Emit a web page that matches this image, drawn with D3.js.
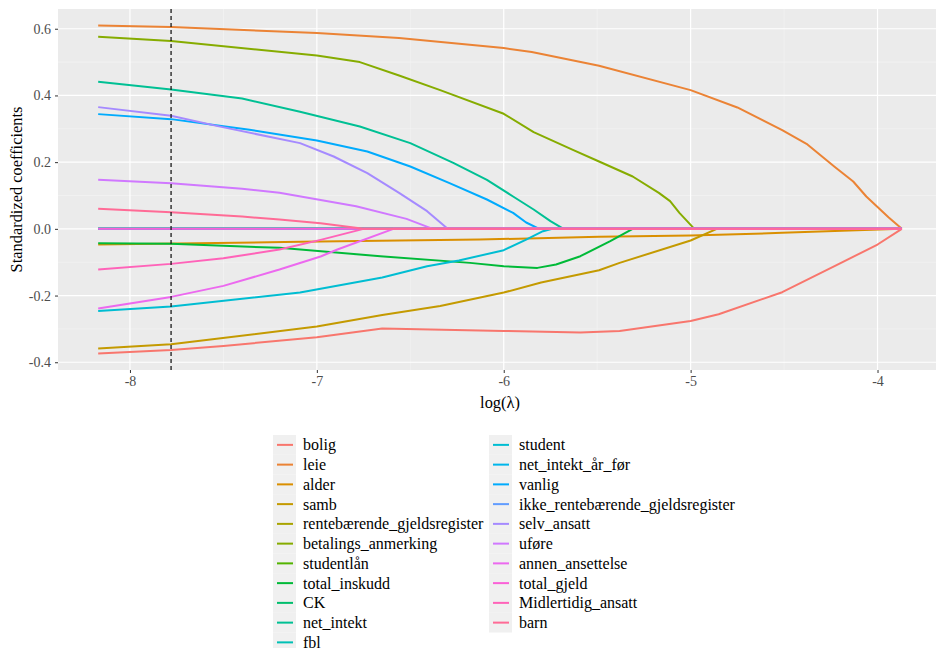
<!DOCTYPE html>
<html>
<head>
<meta charset="utf-8">
<script src="https://cdn.jsdelivr.net/npm/d3@7"></script>
</head>
<body style="margin: 0; background: #ffffff">
<svg id="chart" width="936" height="648" font-family="Liberation Serif" style="display: block; font-family: 'Liberation Serif', serif"></svg>
<script>
// variable names, in legend order
const varNames = [
  "bolig", "leie", "alder", "samb", "rentebærende_gjeldsregister",
  "betalings_anmerking", "studentlån", "total_inskudd", "CK", "net_intekt",
  "fbl", "student", "net_intekt_år_før", "vanlig",
  "ikke_rentebærende_gjeldsregister", "selv_ansatt", "uføre",
  "annen_ansettelse", "total_gjeld", "Midlertidig_ansatt", "barn"
];

// coefficient paths, [log(lambda), coefficient]
const bolig = [[-8.17, -0.374], [-7.78, -0.363], [-7.5, -0.351], [-7.0, -0.325], [-6.65, -0.299], [-6.0, -0.306], [-5.59, -0.311], [-5.38, -0.306], [-5.0, -0.276], [-4.85, -0.256], [-4.51, -0.19], [-4.23, -0.112], [-4.0, -0.047], [-3.87, 0]];
const leie = [[-8.17, 0.61], [-7.78, 0.605], [-7.0, 0.587], [-6.56, 0.572], [-6.0, 0.542], [-5.85, 0.53], [-5.49, 0.489], [-5.0, 0.416], [-4.75, 0.364], [-4.51, 0.296], [-4.38, 0.255], [-4.23, 0.186], [-4.13, 0.142], [-4.06, 0.097], [-3.94, 0.034], [-3.87, 0]];
const alder = [[-8.17, -0.047], [-7.09, -0.039], [-6.13, -0.032], [-5.49, -0.024], [-5.0, -0.02], [-4.51, -0.012], [-3.87, 0]];
const samb = [[-8.17, -0.359], [-7.78, -0.346], [-7.0, -0.293], [-6.65, -0.258], [-6.34, -0.231], [-6.0, -0.191], [-5.8, -0.161], [-5.49, -0.124], [-5.38, -0.102], [-5.0, -0.035], [-4.86, 0], [-3.87, 0]];
const renteGjeld = [[-8.17, 0], [-3.87, 0]];
const betalings = [[-8.17, 0.576], [-7.78, 0.563], [-7.0, 0.52], [-6.77, 0.5], [-6.56, 0.46], [-6.34, 0.416], [-6.0, 0.345], [-5.84, 0.29], [-5.63, 0.237], [-5.49, 0.202], [-5.31, 0.157], [-5.17, 0.108], [-5.11, 0.083], [-5.06, 0.048], [-4.98, 0], [-3.87, 0]];
const studentlan = [[-8.17, 0], [-3.87, 0]];
const totalInskudd = [[-8.17, -0.043], [-7.78, -0.045], [-7.2, -0.057], [-6.66, -0.082], [-6.18, -0.102], [-6.0, -0.112], [-5.82, -0.117], [-5.72, -0.107], [-5.59, -0.082], [-5.43, -0.037], [-5.31, 0], [-3.87, 0]];
const ck = [[-8.17, 0], [-3.87, 0]];
const netIntekt = [[-8.17, 0.441], [-7.78, 0.418], [-7.4, 0.391], [-7.09, 0.351], [-6.77, 0.307], [-6.5, 0.257], [-6.27, 0.198], [-6.09, 0.147], [-5.95, 0.097], [-5.84, 0.058], [-5.75, 0.023], [-5.68, 0], [-3.87, 0]];
const fbl = [[-8.17, 0], [-3.87, 0]];
const student = [[-8.17, -0.246], [-7.78, -0.233], [-7.09, -0.191], [-6.65, -0.146], [-6.41, -0.112], [-6.24, -0.095], [-6.0, -0.064], [-5.88, -0.032], [-5.79, -0.007], [-5.74, 0], [-3.87, 0]];
const netIntektFor = [[-8.17, 0], [-3.87, 0]];
const vanlig = [[-8.17, 0.344], [-7.78, 0.329], [-7.36, 0.297], [-7.0, 0.265], [-6.73, 0.232], [-6.5, 0.187], [-6.29, 0.137], [-6.09, 0.088], [-5.95, 0.048], [-5.88, 0.019], [-5.81, 0], [-3.87, 0]];
const ikkeRenteGjeld = [[-8.17, 0], [-3.87, 0]];
const selvAnsatt = [[-8.17, 0.365], [-7.78, 0.339], [-7.53, 0.308], [-7.09, 0.257], [-6.91, 0.217], [-6.73, 0.167], [-6.56, 0.108], [-6.41, 0.053], [-6.3, 0], [-3.87, 0]];
const ufore = [[-8.17, 0.147], [-7.78, 0.137], [-7.4, 0.12], [-7.2, 0.108], [-6.79, 0.068], [-6.52, 0.03], [-6.38, 0], [-3.87, 0]];
const annenAnsettelse = [[-8.17, -0.239], [-7.78, -0.204], [-7.5, -0.171], [-7.2, -0.122], [-6.98, -0.083], [-6.89, -0.062], [-6.59, 0], [-3.87, 0]];
const totalGjeld = [[-8.17, 0], [-3.87, 0]];
const midlertidig = [[-8.17, -0.122], [-7.78, -0.105], [-7.5, -0.088], [-7.2, -0.062], [-6.98, -0.033], [-6.75, 0], [-3.87, 0]];
const barn = [[-8.17, 0.06], [-7.78, 0.05], [-7.4, 0.037], [-7.2, 0.028], [-6.98, 0.017], [-6.75, 0], [-3.87, 0]];

const coefPaths = [
  bolig, leie, alder, samb, renteGjeld, betalings, studentlan, totalInskudd,
  ck, netIntekt, fbl, student, netIntektFor, vanlig, ikkeRenteGjeld,
  selvAnsatt, ufore, annenAnsettelse, totalGjeld, midlertidig, barn
];

// chosen lambda (dashed line)
const lambdaMin = -7.78;

// axis ticks
const xTicks = [-8, -7, -6, -5, -4];
const xMinorTicks = [-7.5, -6.5, -5.5, -4.5];
const yTicks = [-0.4, -0.2, 0, 0.2, 0.4, 0.6];
const yMinorTicks = [-0.3, -0.1, 0.1, 0.3, 0.5];

const fontName = "Liberation Serif";

const svg = d3.select("#chart");

const panel = { left: 58, right: 942, top: 9, bottom: 370 };

// scales, ggplot style 5% expansion
const xExtent = d3.extent(coefPaths.flat(), (d) => d[0]);
const yExtent = d3.extent(coefPaths.flat(), (d) => d[1]);
const xPad = (xExtent[1] - xExtent[0]) * 0.05;
const yPad = (yExtent[1] - yExtent[0]) * 0.05;

const x = d3
  .scaleLinear()
  .domain([xExtent[0] - xPad, xExtent[1] + xPad])
  .range([panel.left, panel.right]);

const y = d3
  .scaleLinear()
  .domain([yExtent[0] - yPad, yExtent[1] + yPad])
  .range([panel.bottom, panel.top]);

// R's hcl() works in polar CIE-LUV, not LAB like d3.hcl
function polarLuv(h, c, l) {
  const hr = (h * Math.PI) / 180;
  const u = c * Math.cos(hr);
  const v = c * Math.sin(hr);
  const Xn = 95.047, Yn = 100, Zn = 108.883;
  const un = (4 * Xn) / (Xn + 15 * Yn + 3 * Zn);
  const vn = (9 * Yn) / (Xn + 15 * Yn + 3 * Zn);
  const Y = l > 8 ? Yn * Math.pow((l + 16) / 116, 3) : (Yn * l) / 903.3;
  const up = u / (13 * l) + un;
  const vp = v / (13 * l) + vn;
  const X = (9 * Y * up) / (4 * vp);
  const Z = -X / 3 - 5 * Y + (3 * Y) / vp;
  const xs = X / 100, ys = Y / 100, zs = Z / 100;
  const lin = [
    3.240479 * xs - 1.53715 * ys - 0.498535 * zs,
    -0.969256 * xs + 1.875992 * ys + 0.041556 * zs,
    0.055648 * xs - 0.204043 * ys + 1.057311 * zs,
  ];
  const ch = lin.map(function (c) {
    const g = c <= 0.0031308 ? 12.92 * c : 1.055 * Math.pow(c, 1 / 2.4) - 0.055;
    return Math.round(Math.max(0, Math.min(1, g)) * 255);
  });
  return d3.rgb(ch[0], ch[1], ch[2]).formatHex();
}

// ggplot hue palette
const color = d3
  .scaleOrdinal()
  .domain(varNames)
  .range(varNames.map((d, i) => polarLuv(15 + (i * 360) / varNames.length, 100, 65)));

// panel background
svg
  .append("rect")
  .attr("x", panel.left)
  .attr("y", panel.top)
  .attr("width", panel.right - panel.left)
  .attr("height", panel.bottom - panel.top)
  .attr("fill", "#ebebeb");

// minor grid
const grid = svg.append("g").attr("class", "grid");
grid
  .selectAll(null)
  .data(xMinorTicks)
  .enter()
  .append("line")
  .attr("x1", (d) => x(d))
  .attr("x2", (d) => x(d))
  .attr("y1", panel.top)
  .attr("y2", panel.bottom)
  .attr("stroke", "#f5f5f5")
  .attr("stroke-width", 0.6);
grid
  .selectAll(null)
  .data(yMinorTicks)
  .enter()
  .append("line")
  .attr("x1", panel.left)
  .attr("x2", panel.right)
  .attr("y1", (d) => y(d))
  .attr("y2", (d) => y(d))
  .attr("stroke", "#f5f5f5")
  .attr("stroke-width", 0.6);

// major grid
grid
  .selectAll(null)
  .data(xTicks)
  .enter()
  .append("line")
  .attr("x1", (d) => x(d))
  .attr("x2", (d) => x(d))
  .attr("y1", panel.top)
  .attr("y2", panel.bottom)
  .attr("stroke", "#ffffff")
  .attr("stroke-width", 1.2);
grid
  .selectAll(null)
  .data(yTicks)
  .enter()
  .append("line")
  .attr("x1", panel.left)
  .attr("x2", panel.right)
  .attr("y1", (d) => y(d))
  .attr("y2", (d) => y(d))
  .attr("stroke", "#ffffff")
  .attr("stroke-width", 1.2);

// coefficient lines
const line = d3
  .line()
  .x((d) => x(d[0]))
  .y((d) => y(d[1]));

svg
  .append("g")
  .attr("class", "paths")
  .selectAll(null)
  .data(coefPaths)
  .enter()
  .append("path")
  .attr("d", line)
  .attr("fill", "none")
  .attr("stroke", (d, i) => color(varNames[i]))
  .attr("stroke-width", 2)
  .attr("stroke-linejoin", "round");

// dashed line at chosen lambda
svg
  .append("line")
  .attr("x1", x(lambdaMin))
  .attr("x2", x(lambdaMin))
  .attr("y1", panel.top)
  .attr("y2", panel.bottom)
  .attr("stroke", "#1a1a1a")
  .attr("stroke-width", 1.3)
  .attr("stroke-dasharray", "4,3");

// x axis
const xAxis = svg
  .append("g")
  .attr("transform", "translate(0," + panel.bottom + ")")
  .call(d3.axisBottom(x).tickValues(xTicks).tickSize(3).tickPadding(3));

// y axis
const yAxis = svg
  .append("g")
  .attr("transform", "translate(" + panel.left + ",0)")
  .call(d3.axisLeft(y).tickValues(yTicks).tickSize(3).tickPadding(4));

[xAxis, yAxis].forEach(function (ax) {
  ax.attr("font-family", fontName);
  ax.select(".domain").remove();
  ax.selectAll(".tick line").attr("stroke", "#333333").attr("stroke-width", 1);
  ax.selectAll(".tick text")
    .attr("fill", "#4d4d4d")
    .attr("font-family", fontName)
    .attr("font-size", 14);
});
// ggplot uses a plain hyphen for minus
xAxis.selectAll(".tick text").text((d) => String(d));
yAxis.selectAll(".tick text").text((d) => d.toFixed(1));

// axis titles
svg
  .append("text")
  .attr("x", (panel.left + panel.right) / 2)
  .attr("y", 408)
  .attr("text-anchor", "middle")
  .attr("font-family", fontName)
  .attr("font-size", 16.4)
  .text("log(λ)");

svg
  .append("text")
  .attr("transform", "translate(21.5," + (panel.top + panel.bottom) / 2 + ") rotate(-90)")
  .attr("text-anchor", "middle")
  .attr("font-family", fontName)
  .attr("font-size", 16.4)
  .text("Standardized coefficients");

// legend, two columns
const legendTop = 435;
const rowH = 19.75;
const nRows = Math.ceil(varNames.length / 2);
const colX = [273, 489];

const legend = svg
  .append("g")
  .attr("class", "legend")
  .selectAll(null)
  .data(varNames)
  .enter()
  .append("g")
  .attr("transform", function (d, i) {
    const col = Math.floor(i / nRows);
    const row = i % nRows;
    return "translate(" + colX[col] + "," + (legendTop + row * rowH) + ")";
  });

legend
  .append("rect")
  .attr("width", 23)
  .attr("height", rowH)
  .attr("fill", "#f0f0f0");

legend
  .append("line")
  .attr("x1", 4)
  .attr("x2", 20)
  .attr("y1", rowH / 2)
  .attr("y2", rowH / 2)
  .attr("stroke", (d) => color(d))
  .attr("stroke-width", 2);

legend
  .append("text")
  .attr("x", 30)
  .attr("y", rowH / 2)
  .attr("dy", "0.35em")
  .attr("font-family", fontName)
  .attr("font-size", 16)
  .attr("fill", "#000000")
  .text((d) => d);
</script>
</body>
</html>
